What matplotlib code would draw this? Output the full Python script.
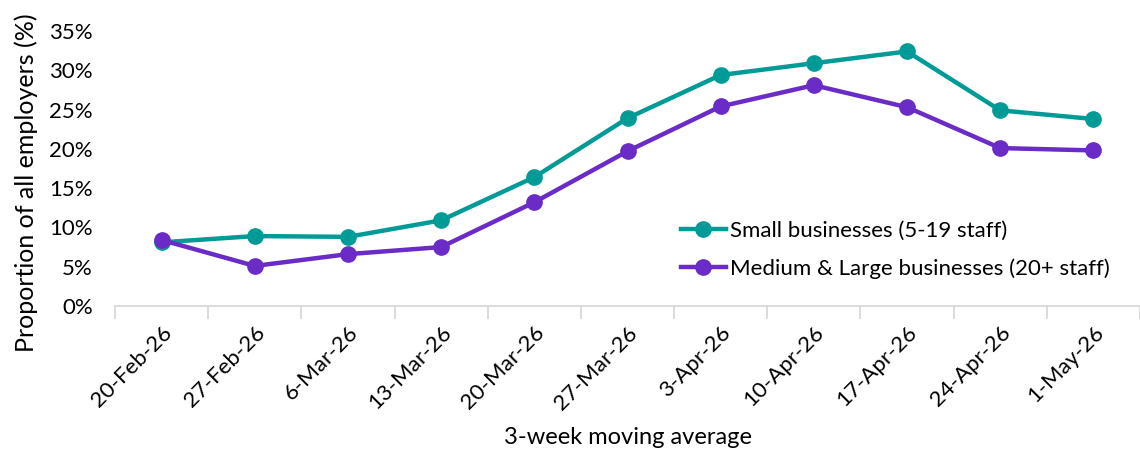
import matplotlib
matplotlib.use("Agg")
import matplotlib.pyplot as plt
from matplotlib.ticker import FuncFormatter

plt.rcParams['font.family'] = ['Lato', 'DejaVu Sans']

weeks = ["20-Feb-26", "27-Feb-26", "6-Mar-26", "13-Mar-26", "20-Mar-26", "27-Mar-26",
         "3-Apr-26", "10-Apr-26", "17-Apr-26", "24-Apr-26", "1-May-26"]
small = [8.1, 8.9, 8.8, 10.9, 16.4, 23.9, 29.4, 30.9, 32.4, 24.9, 23.8]
medium_large = [8.4, 5.1, 6.6, 7.5, 13.2, 19.7, 25.4, 28.1, 25.3, 20.1, 19.8]

teal = '#009B96'
purple = '#6A2BC6'

fig = plt.figure(figsize=(11.4, 4.5), dpi=100)
ax = fig.add_axes([115 / 1140, 1 - 306 / 450, 1 - 115 / 1140, (306 - 31) / 450])

x = list(range(len(weeks)))
ax.plot(x, small, color=teal, lw=3.2, marker='o', ms=11, label='Small businesses (5-19 staff)')
ax.plot(x, medium_large, color=purple, lw=3.2, marker='o', ms=11,
        label='Medium & Large businesses (20+ staff)')

ax.set_ylim(0, 35)
ax.set_yticks(range(0, 36, 5))
ax.yaxis.set_major_formatter(FuncFormatter(lambda v, p: f"{v:.0f}%"))
ax.set_xlim(-0.5, 10.39)

# category labels in the middle, tick marks on the boundaries
ax.set_xticks(x)
ax.set_xticklabels(weeks, rotation=45, ha='right', va='top', rotation_mode='anchor')
ax.set_xticks([i - 0.5 for i in range(len(weeks) + 1)], minor=True)
ax.tick_params(axis='x', which='major', length=0, pad=12, labelsize=16)
ax.tick_params(axis='x', which='minor', length=9, color='#d9d9d9', width=1.3)
ax.tick_params(axis='y', length=0, labelsize=16, pad=16)

for s in ['top', 'right', 'left']:
    ax.spines[s].set_visible(False)
ax.spines['bottom'].set_color('#d9d9d9')
ax.spines['bottom'].set_linewidth(1.3)

ax.set_ylabel('Proportion of all employers (%)', fontsize=18)
ax.yaxis.set_label_coords(-0.075, 0.45)
ax.set_xlabel('3-week moving average', fontsize=17, labelpad=10)

ax.legend(loc='lower right', bbox_to_anchor=(0.99, 0.025), frameon=False, fontsize=16,
          handlelength=2.0, handletextpad=0.2, labelspacing=0.8)

fig.savefig('out.png', dpi=100)
